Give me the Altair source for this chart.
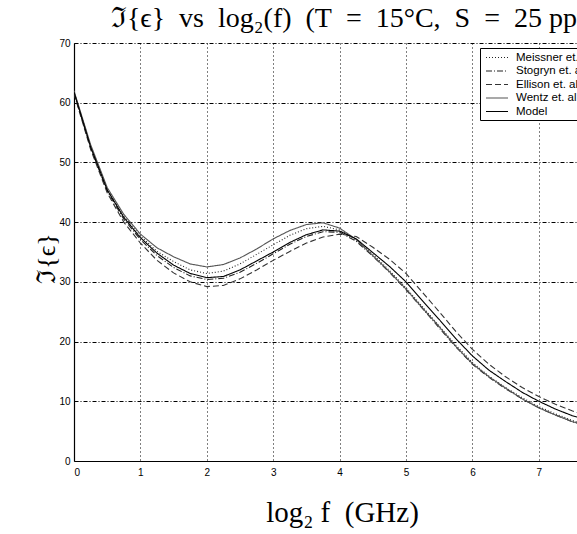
import altair as alt
import pandas as pd

log2_f = [0, 0.25, 0.5, 0.75, 1, 1.25, 1.5, 1.75, 2, 2.25, 2.5, 2.75, 3, 3.25, 3.5, 3.75,
          4, 4.25, 4.5, 4.75, 5, 5.25, 5.5, 5.75, 6, 6.25, 6.5, 6.75, 7, 7.25, 7.5, 7.75]

meissner = [61.8, 52.8, 45.6, 41.0, 37.7, 35.1, 33.4, 32.0, 31.4, 31.8, 33.0, 34.6, 36.2, 37.8, 38.9, 39.3,
            38.7, 37.0, 34.6, 31.9, 29.0, 25.8, 22.6, 19.4, 16.5, 14.2, 12.3, 10.6, 9.1, 7.9, 6.8, 6.0]
stogryn = [61.6, 52.5, 45.2, 40.5, 37.1, 34.4, 32.4, 31.0, 30.4, 30.6, 31.6, 33.1, 34.7, 36.3, 37.6, 38.4,
           38.3, 36.8, 34.3, 31.6, 28.7, 25.5, 22.3, 19.1, 16.2, 14.0, 12.1, 10.4, 8.9, 7.7, 6.6, 5.8]
ellison = [61.5, 52.2, 44.9, 40.0, 36.5, 33.6, 31.5, 30.0, 29.2, 29.4, 30.5, 32.0, 33.6, 35.1, 36.5, 37.5,
           38.0, 37.6, 35.8, 33.8, 31.4, 28.2, 25.0, 21.7, 18.7, 16.2, 14.1, 12.3, 10.8, 9.5, 8.4, 7.5]
wentz = [62.0, 53.0, 45.8, 41.3, 38.0, 35.7, 34.2, 33.0, 32.5, 32.9, 34.0, 35.5, 37.2, 38.6, 39.6, 39.9,
         39.0, 37.1, 34.4, 31.7, 28.8, 25.6, 22.5, 19.2, 16.3, 14.1, 12.2, 10.4, 8.9, 7.7, 6.6, 5.8]
model = [61.8, 52.6, 45.4, 40.8, 37.4, 34.8, 32.8, 31.4, 30.7, 30.9, 32.0, 33.5, 35.0, 36.6, 37.9, 38.7,
         38.5, 37.2, 34.9, 32.6, 30.0, 26.8, 23.7, 20.5, 17.6, 15.2, 13.3, 11.5, 10.0, 8.7, 7.6, 6.8]

series_names = ["Meissner et. al.", "Stogryn et. al.", "Ellison et. al.", "Wentz et. al.", "Model"]
series_values = [meissner, stogryn, ellison, wentz, model]
series_dash = [[1, 2], [6, 2, 1, 2], [6, 3], [1, 0], [1, 0]]
series_color = ["#222222", "#222222", "#333333", "#555555", "#000000"]

x_ticks = [0, 1, 2, 3, 4, 5, 6, 7]
y_ticks = [0, 10, 20, 30, 40, 50, 60, 70]

NB = "\u00a0"
title_text = (f"ℑ{{ϵ}}{NB}{NB}vs{NB}{NB}log₂(f){NB}{NB}(T{NB}{NB}={NB}{NB}15°C,{NB}{NB}"
              f"S{NB}{NB}={NB}{NB}25{NB}ppt)")
x_title = f"log₂{NB}f{NB}{NB}(GHz)"

rows = []
for name, vals in zip(series_names, series_values):
    for xv, yv in zip(log2_f, vals):
        rows.append({"x": xv, "y": yv, "series": name})
df = pd.DataFrame(rows)

x_axis = alt.Axis(values=x_ticks, grid=True, gridColor="black", gridDash=[1, 3], gridOpacity=1,
                  gridWidth=1, domainColor="black", domainWidth=1.2, ticks=False,
                  labelFont="Liberation Sans", labelFontSize=10, labelColor="black", labelPadding=6,
                  title=x_title, titleFont="Liberation Serif", titleFontSize=29,
                  titleFontWeight="normal", titleColor="black", titleX=268, titleY=60,
                  titleAlign="center", titleBaseline="alphabetic")
y_axis = alt.Axis(values=y_ticks, grid=True, gridColor="black", gridDash=[4, 2, 1, 2], gridOpacity=1,
                  gridWidth=1, domainColor="black", domainWidth=1.2, ticks=False,
                  labelFont="Liberation Sans", labelFontSize=10, labelColor="black", labelPadding=4,
                  title="ℑ{ϵ}", titleFont="Liberation Serif", titleFontSize=26,
                  titleFontWeight="normal", titleColor="black", titleX=-20, titleY=215,
                  titleAlign="center", titleBaseline="alphabetic", titleAngle=270)

lines = alt.Chart(df).mark_line(clip=True, strokeWidth=1.1).encode(
    x=alt.X("x:Q", scale=alt.Scale(domain=[0, 7.575], nice=False, zero=False), axis=x_axis),
    y=alt.Y("y:Q", scale=alt.Scale(domain=[0, 70], nice=False), axis=y_axis),
    color=alt.Color("series:N", scale=alt.Scale(domain=series_names, range=series_color),
                    sort=series_names),
    strokeDash=alt.StrokeDash("series:N", scale=alt.Scale(domain=series_names, range=series_dash),
                              sort=series_names),
    detail="series:N",
)

chart = lines.properties(
    width=503, height=418,
    autosize=alt.AutoSizeParams(type="none"),
    padding={"left": 74, "top": 43, "right": 0, "bottom": 73},
    title=alt.TitleParams(title_text, font="Liberation Serif",
                          fontSize=28, fontWeight="normal", color="black", anchor="middle",
                          dx=27, offset=5),
).configure_view(stroke=None).configure_legend(
    orient="none", legendX=406, legendY=5, title=None,
    strokeColor="black", fillColor="white", padding=3, cornerRadius=0,
    symbolType="M-2,0H2", symbolSize=121, symbolStrokeWidth=1.1, symbolOffset=7.5,
    labelFont="Liberation Sans", labelFontSize=11.5, labelColor="black", labelOffset=12.5,
    rowPadding=1.5,
)

chart.save("out.html", embed_options={"renderer": "svg", "actions": False})
